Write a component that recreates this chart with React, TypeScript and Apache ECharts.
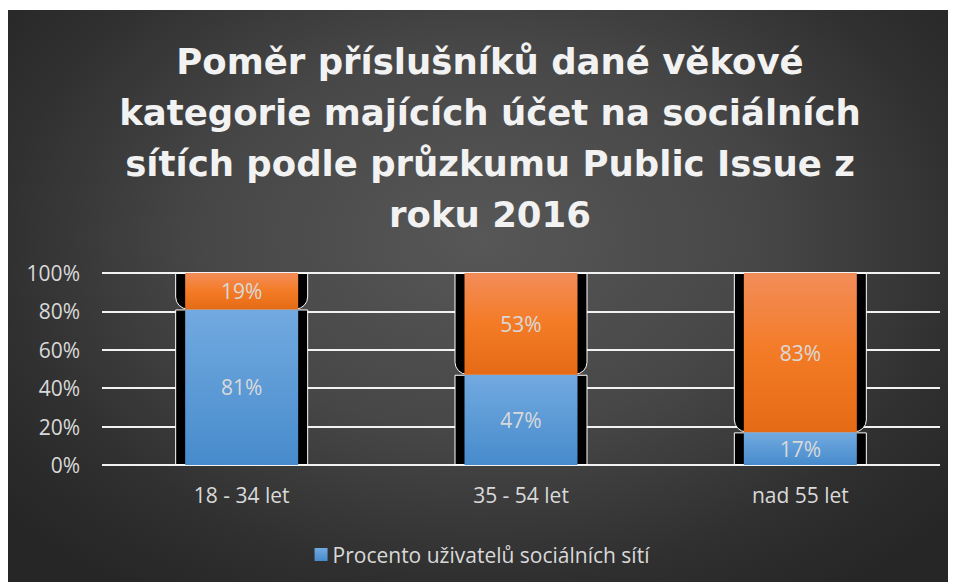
import React, { useEffect, useRef } from "react";
import * as echarts from "echarts";

const TITLE = "Poměr příslušníků dané věkové\nkategorie majících účet na sociálních\nsítích podle průzkumu Public Issue z\nroku 2016";
const categories = ["18 - 34 let", "35 - 54 let", "nad 55 let"];
const usersName = "Procento uživatelů sociálních sítí";
const usersValues = [81, 47, 17];
const othersName = "Ostatní";
const othersValues = [19, 53, 83];
const yTicks = { min: 0, max: 100, interval: 20 };

const FONT = "'Open Sans', 'Noto Sans', sans-serif";
const TITLE_FONT = "'DejaVu Sans', 'Open Sans', sans-serif";
const TXT = "#d9d9d9";

export default function App() {
  const ref = useRef<HTMLDivElement>(null);
  useEffect(() => {
    if (!ref.current) return;
    const chart = echarts.init(ref.current, undefined, { renderer: "svg" });
    const blue = new echarts.graphic.LinearGradient(0, 0, 0, 1, [
      { offset: 0, color: "#72aae0" },
      { offset: 1, color: "#478bcc" },
    ]);
    const orange = new echarts.graphic.LinearGradient(0, 0, 0, 1, [
      { offset: 0, color: "#f28d59" },
      { offset: 0.5, color: "#f47b26" },
      { offset: 1, color: "#e56a16" },
    ]);
    const label = {
      show: true,
      position: "inside",
      color: TXT,
      fontSize: 21,
      fontFamily: FONT,
      formatter: "{c}%",
    };
    chart.setOption({
      animation: false,
      textStyle: { fontFamily: FONT },
      graphic: [
        {
          type: "text",
          x: 482,
          y: 26,
          style: {
            text: TITLE,
            fill: "#f2f2f2",
            font: `bold 35.5px ${TITLE_FONT}`,
            textAlign: "center",
            textVerticalAlign: "top",
            lineHeight: 51,
          },
        },
      ],
      legend: {
        data: [usersName],
        left: "center",
        top: 529,
        icon: "rect",
        itemWidth: 13,
        itemHeight: 13,
        itemGap: 8,
        textStyle: { color: TXT, fontSize: 21, fontFamily: FONT },
      },
      grid: { left: 94, right: 16, top: 263, bottom: 117, containLabel: false },
      xAxis: [
        {
          type: "category",
          data: categories,
          axisTick: { show: false },
          axisLine: { show: false },
          axisLabel: { color: TXT, fontSize: 21, fontFamily: FONT, margin: 19 },
        },
        { type: "category", data: categories, show: false },
      ],
      yAxis: {
        type: "value",
        min: yTicks.min,
        max: yTicks.max,
        interval: yTicks.interval,
        axisLabel: { color: TXT, fontSize: 21, fontFamily: FONT, margin: 22, formatter: "{value}%" },
        splitLine: { lineStyle: { color: "#f2f2f2", width: 2 } },
        axisLine: { show: false },
        axisTick: { show: false },
      },
      series: [
        {
          name: "frame-users",
          type: "bar",
          xAxisIndex: 1,
          stack: "frame",
          barWidth: 133,
          data: usersValues,
          itemStyle: { color: "#000", borderColor: "#ffffff", borderWidth: 1 },
          silent: true,
          z: 2,
        },
        {
          name: "frame-others",
          type: "bar",
          xAxisIndex: 1,
          stack: "frame",
          barWidth: 133,
          data: othersValues,
          itemStyle: { color: "#000", borderColor: "#ffffff", borderWidth: 1, borderRadius: [0, 0, 12, 12] },
          silent: true,
          z: 2,
        },
        {
          name: usersName,
          type: "bar",
          xAxisIndex: 0,
          stack: "total",
          barWidth: 113,
          data: usersValues,
          itemStyle: { color: blue },
          label,
          z: 3,
        },
        {
          name: othersName,
          type: "bar",
          xAxisIndex: 0,
          stack: "total",
          barWidth: 113,
          data: othersValues,
          itemStyle: { color: orange },
          label,
          z: 3,
        },
      ],
    });
    return () => chart.dispose();
  }, []);
  return (
    <div
      ref={ref}
      style={{
        width: 948,
        height: 572,
        marginTop: 2,
        background:
          "radial-gradient(ellipse 65% 75% at 50% 40%, #575757 0%, #474747 45%, #2f2f2f 80%, #262626 100%)",
      }}
    />
  );
}
